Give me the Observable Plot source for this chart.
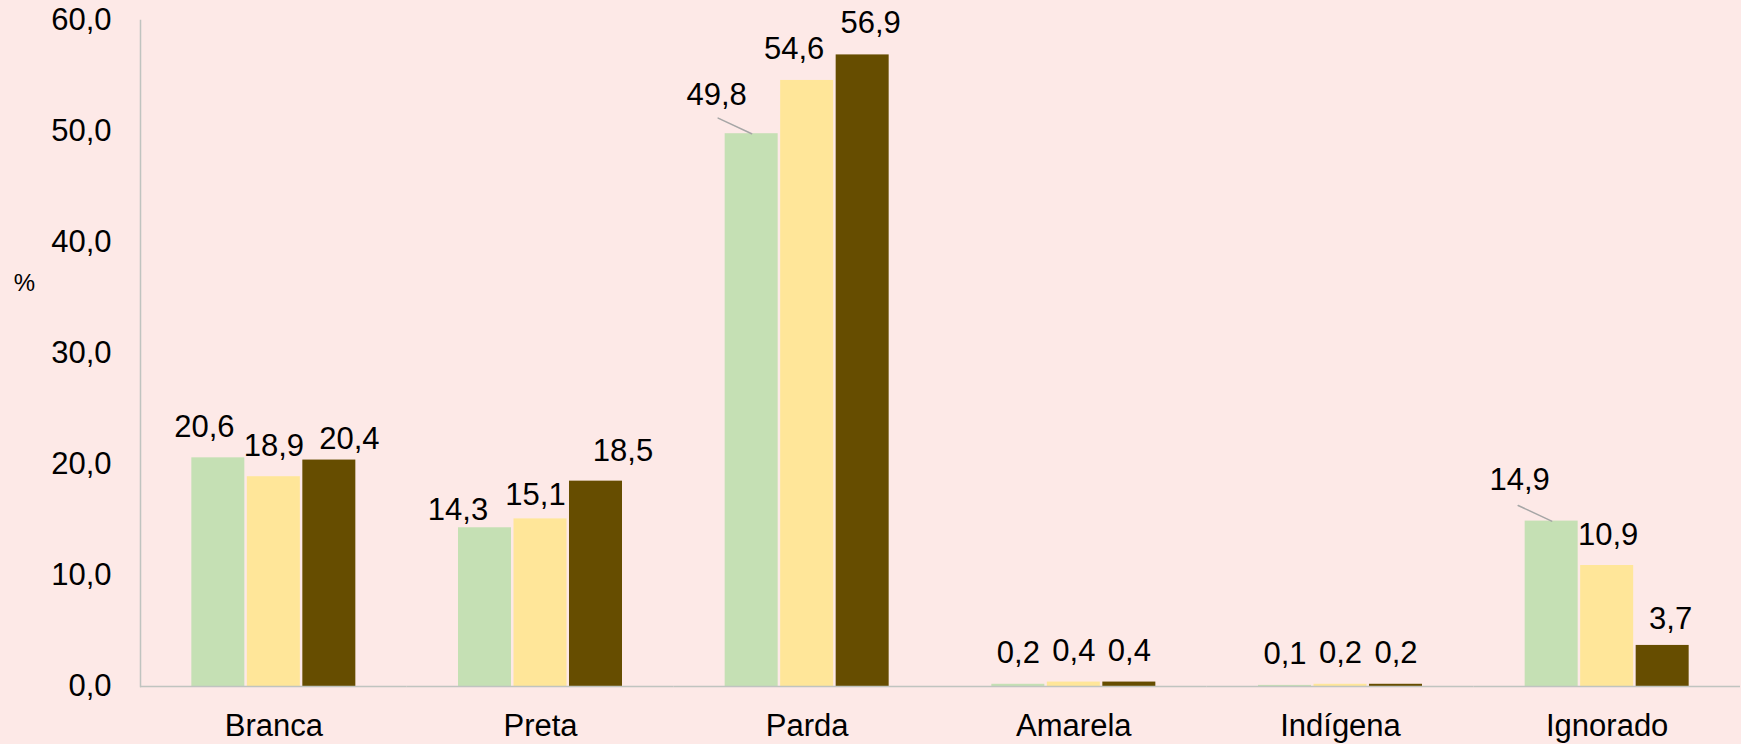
<!DOCTYPE html>
<html>
<head>
<meta charset="utf-8">
<script src="https://cdn.jsdelivr.net/npm/d3@7"></script>
<script src="https://cdn.jsdelivr.net/npm/@observablehq/plot@0.6"></script>
<style>
  html, body { margin: 0; padding: 0; background: #FDE9E7; }
  #chart { width: 1741px; height: 744px; }
</style>
</head>
<body>
<div id="chart"></div>
<script>
// ---- data ----
const categories = ["Branca", "Preta", "Parda", "Amarela", "Indígena", "Ignorado"];
const series = ["Série 1", "Série 2", "Série 3"];
const serie1 = [20.6, 14.3, 49.8, 0.2, 0.1, 14.9];
const serie2 = [18.9, 15.1, 54.6, 0.4, 0.2, 10.9];
const serie3 = [20.4, 18.5, 56.9, 0.4, 0.2, 3.7];
const yTicks = [0, 10, 20, 30, 40, 50, 60];
const yLabel = "%";
const leaderCategories = ["Parda", "Ignorado"]; // labels of série 1 moved out, with a leader line

// ---- styling / layout config ----
const colors = ["#C5E0B4", "#FFE699", "#664D00"];
const axisColor = "#C0C4C0";
const fontFamily = "'Liberation Sans', Arial, sans-serif";
// per-label nudges [dx, dy] in pixels, by category then series
const labelNudge = {
  "Branca":   [[-14, 0], [0, 0], [20, 10]],
  "Preta":    [[-27, 13], [-5, 7], [27, 1]],
  "Parda":    [[-35, -8], [-13, 0], [8, -1]],
  "Amarela":  [[0, 0], [0, 0], [0, 0]],
  "Indígena": [[0, 0], [0, 0], [0, 0]],
  "Ignorado": [[-32, -10], [1, 0], [8, 5]]
};

const seriesValues = [serie1, serie2, serie3];
const rows = categories.flatMap((c, i) =>
  seriesValues.map((vals, j) => ({cat: c, serie: series[j], si: j, value: vals[i]}))
);
const fmt = d => d.toFixed(1).replace(".", ",");

const labelMarks = rows.map(r => {
  const [ndx, ndy] = labelNudge[r.cat][r.si];
  return Plot.text([r], {
    fx: "cat", x: "serie", y: "value",
    text: d => fmt(d.value),
    lineAnchor: "bottom",
    dx: ndx, dy: -21 + ndy,
    fontSize: 31, fill: "#000"
  });
});

const chart = Plot.plot({
  width: 1741,
  height: 744,
  marginLeft: 140,
  marginRight: 1,
  marginTop: 20,
  marginBottom: 58,
  style: {background: "#FDE9E7", fontFamily, color: "#000", overflow: "visible"},
  fx: {domain: categories, paddingInner: 0, paddingOuter: 0, round: false, label: null},
  x: {domain: series, paddingInner: 0.045, paddingOuter: 0.925, round: false, axis: null},
  y: {domain: [0, 60], label: null},
  color: {domain: series, range: colors},
  marks: [
    Plot.barY(rows, {fx: "cat", x: "serie", y: "value", fill: "serie"}),
    Plot.ruleY([0], {stroke: axisColor, strokeWidth: 1.5}),
    Plot.frame({anchor: "left", facetAnchor: "left", stroke: axisColor, strokeWidth: 1.5}),
    Plot.vector(rows.filter(r => r.si === 0 && leaderCategories.includes(r.cat)), {
      fx: "cat", x: "serie", y: "value",
      length: 37, rotate: -65, anchor: "start",
      stroke: "#A6A6A6", strokeWidth: 1.5,
      shape: {draw(context, l) { context.moveTo(0, 0); context.lineTo(0, -l); }}
    }),
    ...labelMarks,
    Plot.axisY({ticks: yTicks, tickFormat: fmt, tickSize: 0, tickPadding: 29, fontSize: 31, label: null}),
    Plot.axisFx({anchor: "bottom", tickSize: 0, tickPadding: 27, fontSize: 31, label: null}),
    Plot.text([yLabel], {fx: () => "Branca", frameAnchor: "left", textAnchor: "middle", dx: -116, dy: -70, fontSize: 24, fill: "#000"})
  ]
});
document.getElementById("chart").appendChild(chart);
</script>
</body>
</html>
